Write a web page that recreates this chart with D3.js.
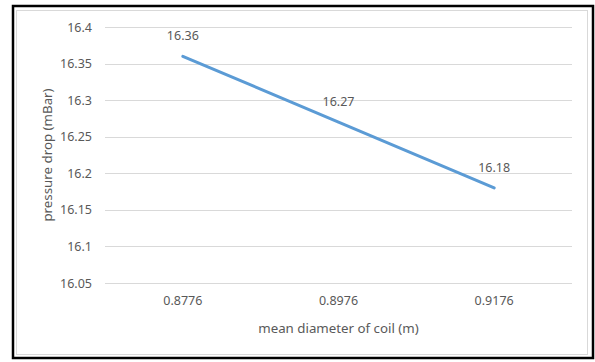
<!DOCTYPE html>
<html>
<head>
<meta charset="utf-8">
<script src="https://cdn.jsdelivr.net/npm/d3@7"></script>
<style>
  body { margin: 0; background: #fff; }
  text { font-family: "Noto Sans", "Open Sans", sans-serif; fill: #595959; }
</style>
</head>
<body>
<div id="chart"></div>
<script>
// chart data
var diameters = ["0.8776", "0.8976", "0.9176"];
var pressureDrop = [16.36, 16.27, 16.18];
var yTicks = [16.05, 16.1, 16.15, 16.2, 16.25, 16.3, 16.35, 16.4];

var W = 595, H = 362;
var margin = {top: 27, right: 23, bottom: 79, left: 105},
    width = W - margin.left - margin.right,
    height = H - margin.top - margin.bottom;

var root = d3.select("#chart")
  .append("svg")
    .attr("width", W)
    .attr("height", H);

// outer frame (black) and inner chart area border (light grey)
root.append("rect")
  .attr("x", 13).attr("y", 6)
  .attr("width", 580).attr("height", 352)
  .attr("fill", "#fff").attr("stroke", "#000").attr("stroke-width", 2.5);
root.append("rect")
  .attr("x", 16.5).attr("y", 10.5)
  .attr("width", 571).attr("height", 344)
  .attr("fill", "#fff").attr("stroke", "#d9d9d9").attr("stroke-width", 1);

var svg = root.append("g")
  .attr("transform", "translate(" + margin.left + "," + margin.top + ")");

var x = d3.scaleBand()
  .domain(diameters)
  .range([0, width]);

var y = d3.scaleLinear()
  .domain([16.05, 16.4])
  .range([height, 0]);

// gridlines
svg.append("g")
  .selectAll("line")
  .data(yTicks)
  .enter().append("line")
    .attr("x1", 0).attr("x2", width)
    .attr("y1", function(d) { return Math.round(y(d)) + 0.5; })
    .attr("y2", function(d) { return Math.round(y(d)) + 0.5; })
    .attr("stroke", "#d9d9d9")
    .attr("stroke-width", 1.2);

// y axis labels
var yAxis = svg.append("g")
  .attr("transform", "translate(-10,0)")
  .call(d3.axisLeft(y).tickValues(yTicks).tickSize(0).tickFormat(d3.format("")));
yAxis.select(".domain").remove();
yAxis.selectAll("text")
  .attr("font-size", "12.5px")
  .attr("font-family", "\"Noto Sans\", sans-serif")
  .attr("fill", "#595959");

// x axis labels
var xAxis = svg.append("g")
  .attr("transform", "translate(0," + height + ")")
  .call(d3.axisBottom(x).tickSize(0).tickPadding(13));
xAxis.select(".domain").remove();
xAxis.selectAll("text")
  .attr("font-size", "12.5px")
  .attr("font-family", "\"Noto Sans\", sans-serif")
  .attr("fill", "#595959");

// the line
var pts = diameters.map(function(d, i) { return {k: d, v: pressureDrop[i]}; });
svg.append("path")
  .datum(pts)
  .attr("fill", "none")
  .attr("stroke", "#5b9bd5")
  .attr("stroke-width", 3)
  .attr("stroke-linecap", "round")
  .attr("d", d3.line()
    .x(function(d) { return x(d.k) + x.bandwidth() / 2; })
    .y(function(d) { return y(d.v); })
  );

// data labels
svg.selectAll(".dlabel")
  .data(pts)
  .enter().append("text")
    .attr("class", "dlabel")
    .attr("x", function(d) { return x(d.k) + x.bandwidth() / 2; })
    .attr("y", function(d) { return y(d.v) - 16; })
    .attr("text-anchor", "middle")
    .attr("font-size", "12.5px")
    .text(function(d) { return d.v; });

// axis titles
svg.append("text")
  .attr("x", width / 2)
  .attr("y", height + 50)
  .attr("text-anchor", "middle")
  .attr("font-size", "13.3px")
  .text("mean diameter of coil (m)");

svg.append("text")
  .attr("transform", "translate(" + (-53) + "," + (height / 2) + ") rotate(-90)")
  .attr("text-anchor", "middle")
  .attr("font-size", "13.3px")
  .text("pressure drop (mBar)");
</script>
</body>
</html>
